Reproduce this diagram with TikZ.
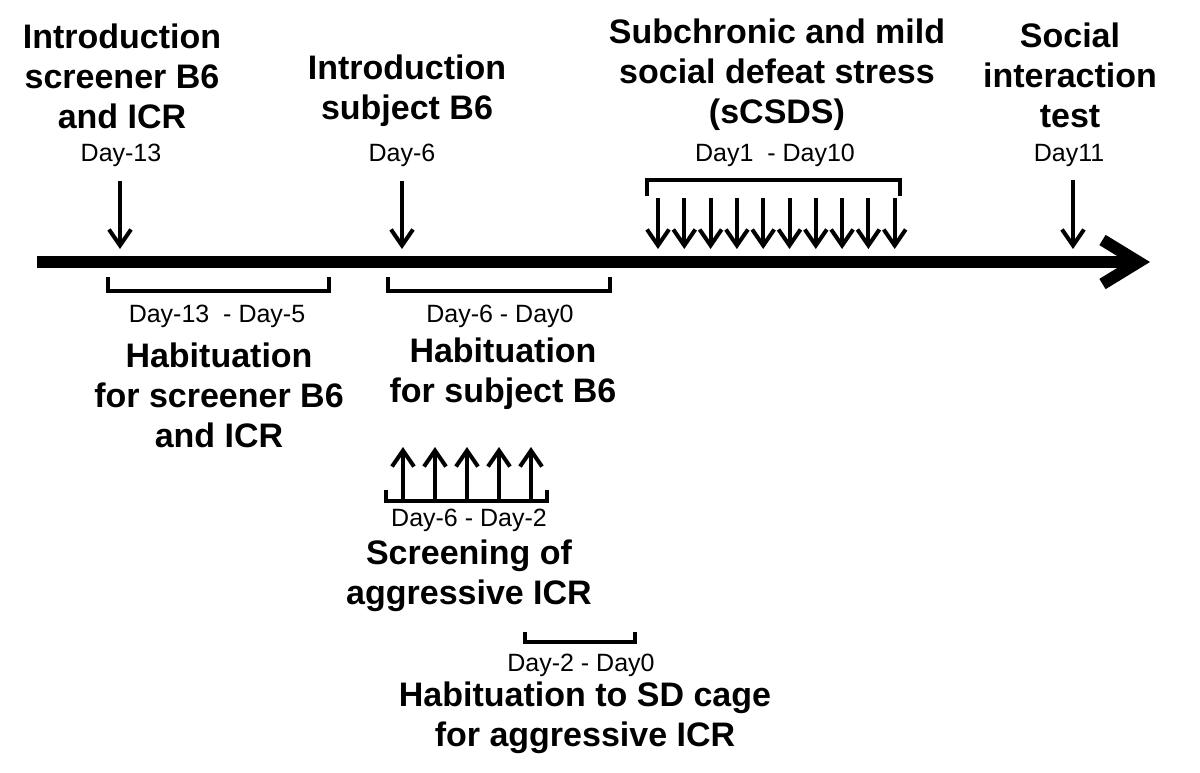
\documentclass[tikz,border=0pt]{standalone}
\usepackage{fontspec}
\setmainfont{Liberation Sans}
\usetikzlibrary{arrows.meta}
\tikzset{
  title/.style={font=\fontsize{17}{20}\selectfont\bfseries, align=center, inner sep=0pt},
  day/.style={font=\fontsize{12.5}{15}\selectfont, inner sep=0pt},
  dayarrow/.style={line width=2pt, -{Straight Barb[length=8pt,width=11pt]}},
  bracket/.style={line width=2pt}
}
\begin{document}
\begin{tikzpicture}[x=0.5pt,y=0.5pt]
            \useasboundingbox (0,0) rectangle (1200,-772);
            % Time axis
            \coordinate (start) at (37,-262);
            \coordinate (stop) at (1150,-262);
            \draw[line width=6pt, -{Straight Barb[length=18pt,width=22pt]}] (start) -- (stop);

            % Introduction of screener B6 and ICR
            \node (intro1) at (122,-76) [title] {Introduction\\screener B6\\and ICR};
            \node (day13) at (121,-155) [day] {Day-13};
            \coordinate (a1) at (120,-181);
            \coordinate (b1) at (120,-249);
            \draw[dayarrow] (a1) -- (b1);

            % Introduction of subject B6
            \node (intro2) at (407,-91) [title] {Introduction\\subject B6};
            \node (day6) at (402,-155) [day] {Day-6};
            \coordinate (a2) at (402,-181);
            \coordinate (b2) at (402,-249);
            \draw[dayarrow] (a2) -- (b2);

            % sCSDS
            \node (scsds) at (777,-75) [title] {Subchronic and mild\\social defeat stress\\(sCSDS)};
            \node (day110) at (775,-155) [day] {Day1 \ - Day10};
            \draw[bracket] (647,-196) -- (647,-180) -- (900,-180) -- (900,-196);
            \foreach \i in {0,...,9}
                \draw[dayarrow] (658+26.3*\i,-198) -- (658+26.3*\i,-249);

            % Social interaction test
            \node (sit) at (1070,-75) [title] {Social\\interaction\\test};
            \node (day11) at (1069,-155) [day] {Day11};
            \coordinate (a4) at (1073,-180);
            \coordinate (b4) at (1073,-249);
            \draw[dayarrow] (a4) -- (b4);

            % Habituation for screener B6 and ICR
            \draw[bracket] (108,-277) -- (108,-291) -- (329,-291) -- (329,-277);
            \node (d135) at (217,-316) [day] {Day-13 \ - Day-5};
            \node (hab1) at (219,-395) [title] {Habituation\\for screener B6\\and ICR};

            % Habituation for subject B6
            \draw[bracket] (388,-277) -- (388,-291) -- (610,-291) -- (610,-277);
            \node (d60) at (500,-316) [day] {Day-6 - Day0};
            \node (hab2) at (503,-374) [title] {Habituation\\for subject B6};

            % Screening of aggressive ICR
            \draw[bracket] (386,-490) -- (386,-501) -- (547,-501) -- (547,-490);
            \foreach \i in {0,...,4}
                \draw[dayarrow] (403+32*\i,-500) -- (403+32*\i,-447);
            \node (d62) at (469,-520) [day] {Day-6 - Day-2};
            \node (scr) at (469,-576) [title] {Screening of\\aggressive ICR};

            % Habituation to SD cage
            \draw[bracket] (525,-632) -- (525,-642) -- (635,-642) -- (635,-632);
            \node (d20) at (581,-665) [day] {Day-2 - Day0};
            \node (hab3) at (585,-718) [title] {Habituation to SD cage\\for aggressive ICR};
\end{tikzpicture}
\end{document}
